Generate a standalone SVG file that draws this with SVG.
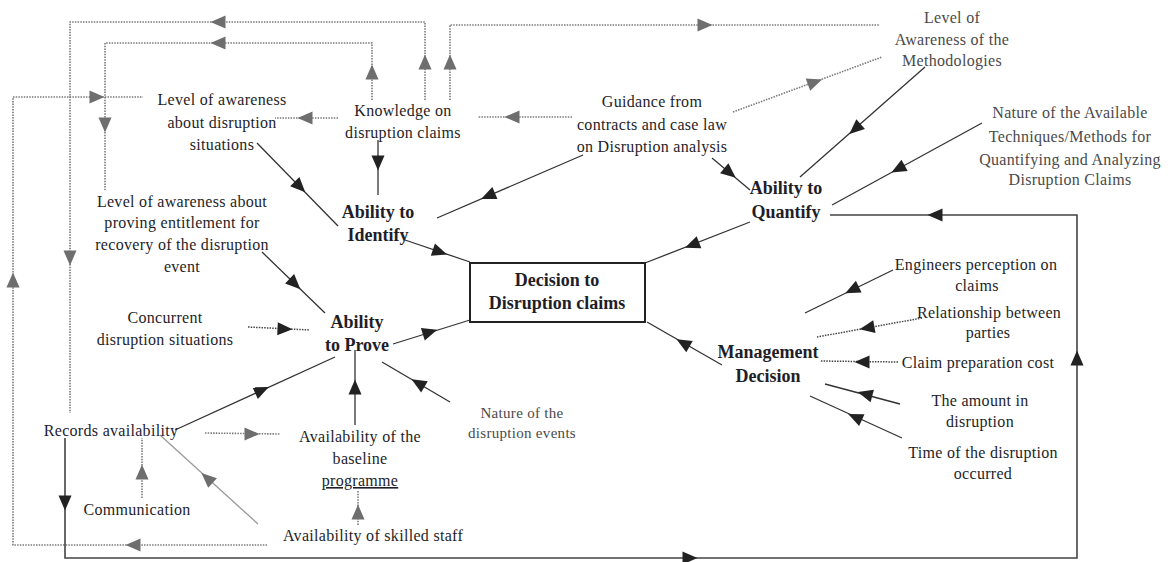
<svg xmlns="http://www.w3.org/2000/svg" xmlns:xlink="http://www.w3.org/1999/xlink" width="1173" height="562" viewBox="0 0 1173 562">
<defs>
<style>
text{font-family:"Liberation Serif","Times New Roman",serif;font-size:16px;fill:#1e1e28;text-anchor:middle;letter-spacing:0.3px}
.b{font-weight:bold;font-size:18px;letter-spacing:0}
.g{fill:#4a4a4a}
.sm{font-size:15px}
.s{fill:none;stroke:#333;stroke-width:1.3}
.d{fill:none;stroke:#7a7a7a;stroke-width:1.6;stroke-dasharray:1.5 1.2}
.dd{fill:none;stroke:#444;stroke-width:1.5;stroke-dasharray:1.5 1.2}
.t{fill:none;stroke:#999;stroke-width:1.3}
.L{fill:none;stroke:#444;stroke-width:1.6}
.ak{fill:#222}
.ag{fill:#6e6e6e}
</style>
<path id="ah" d="M7.5,0 L-7.5,-6.5 L-7.5,6.5 Z"/>
</defs>
<rect width="1173" height="562" fill="#fff"/>

<g id="connectors">
<path class="d" d="M267 545 L13 545 L13 97 L143 97"/>
<use href="#ah" class="ag" transform="translate(133,545) rotate(180)"/>
<use href="#ah" class="ag" transform="translate(13,280) rotate(-90)"/>
<use href="#ah" class="ag" transform="translate(97,97)"/>
<path class="d" d="M425 100 L425 22 L70 22 L70 413"/>
<use href="#ah" class="ag" transform="translate(425,62) rotate(-90)"/>
<use href="#ah" class="ag" transform="translate(218,22) rotate(180)"/>
<use href="#ah" class="ag" transform="translate(70,258) rotate(90)"/>
<path class="d" d="M372 100 L372 43 L105 43 L105 190"/>
<use href="#ah" class="ag" transform="translate(372,72) rotate(-90)"/>
<use href="#ah" class="ag" transform="translate(218,43) rotate(180)"/>
<use href="#ah" class="ag" transform="translate(105,125) rotate(90)"/>
<path class="d" d="M450 100 L450 25 L880 25"/>
<use href="#ah" class="ag" transform="translate(450,62) rotate(-90)"/>
<use href="#ah" class="ag" transform="translate(705,25)"/>
<path class="d" d="M733 112 L882 57"/>
<use href="#ah" class="ag" transform="translate(815,82) rotate(-20.3)"/>
<path class="d" d="M572 117 L478 117"/>
<use href="#ah" class="ag" transform="translate(512,117) rotate(180)"/>
<path class="d" d="M338 118 L275 118"/>
<use href="#ah" class="ag" transform="translate(305,118) rotate(180)"/>
<path class="s" d="M378 140 L378 195"/>
<use href="#ah" class="ak" transform="translate(378,163) rotate(90)"/>
<path class="s" d="M257 143 L338 226"/>
<use href="#ah" class="ak" transform="translate(300,187) rotate(45.7)"/>
<path class="s" d="M583 155 L437 218"/>
<use href="#ah" class="ak" transform="translate(488,196) rotate(156.7)"/>
<path class="s" d="M712 158 L750 190"/>
<use href="#ah" class="ak" transform="translate(730,173) rotate(40)"/>
<path class="s" d="M405 240 L470 262"/>
<use href="#ah" class="ak" transform="translate(440,252) rotate(18.7)"/>
<path class="s" d="M750 222 L645 263"/>
<use href="#ah" class="ak" transform="translate(692,245) rotate(158.7)"/>
<path class="s" d="M925 67 L800 177"/>
<use href="#ah" class="ak" transform="translate(855,129) rotate(138.7)"/>
<path class="s" d="M982 123 L832 205"/>
<use href="#ah" class="ak" transform="translate(898,169) rotate(151.3)"/>
<path class="L" d="M65 438 L65 558 L1077 558 L1077 215 L830 215"/>
<use href="#ah" class="ak" transform="translate(65,503) rotate(90)"/>
<use href="#ah" class="ak" transform="translate(690,558)"/>
<use href="#ah" class="ak" transform="translate(1077,358) rotate(-90)"/>
<use href="#ah" class="ak" transform="translate(935,215) rotate(180)"/>
<path class="s" d="M175 430 L335 357"/>
<use href="#ah" class="ak" transform="translate(262,390) rotate(-24.5)"/>
<path class="d" d="M205 433 L280 434"/>
<use href="#ah" class="ag" transform="translate(252,434)"/>
<path class="d" d="M142 498 L142 438"/>
<use href="#ah" class="ag" transform="translate(142,472) rotate(-90)"/>
<path class="t" d="M258 524 L160 435"/>
<use href="#ah" class="ag" transform="translate(207,478) rotate(-137.8)"/>
<path class="d" d="M358 525 L358 490"/>
<use href="#ah" class="ag" transform="translate(358,512) rotate(-90)"/>
<path class="s" d="M355 425 L355 350"/>
<use href="#ah" class="ak" transform="translate(355,387) rotate(-90)"/>
<path class="s" d="M450 402 L382 362"/>
<use href="#ah" class="ak" transform="translate(418,383) rotate(-149.5)"/>
<path class="s" d="M393 344 L470 320"/>
<use href="#ah" class="ak" transform="translate(430,332) rotate(-17.3)"/>
<path class="dd" d="M248 327 L310 330"/>
<use href="#ah" class="ak" transform="translate(285,329) rotate(2.8)"/>
<path class="s" d="M262 252 L325 313"/>
<use href="#ah" class="ak" transform="translate(295,284) rotate(44.1)"/>
<path class="s" d="M722 365 L647 322"/>
<use href="#ah" class="ak" transform="translate(683,343) rotate(-150.2)"/>
<path class="s" d="M893 270 L805 313"/>
<use href="#ah" class="ak" transform="translate(852,290) rotate(154)"/>
<path class="dd" d="M922 318 L817 337"/>
<use href="#ah" class="ak" transform="translate(867,328) rotate(169.7)"/>
<path class="dd" d="M898 362 L820 361"/>
<use href="#ah" class="ak" transform="translate(862,362) rotate(180)"/>
<path class="s" d="M900 404 L825 384"/>
<use href="#ah" class="ak" transform="translate(865,394) rotate(-165)"/>
<path class="s" d="M902 438 L810 396"/>
<use href="#ah" class="ak" transform="translate(855,417) rotate(-155.5)"/>
</g>

<g id="decision">
<rect x="470" y="263" width="175" height="59" fill="#fff" stroke="#222" stroke-width="2"/>
<text class="b" x="557" y="286">Decision to</text>
<text class="b" x="557" y="309">Disruption claims</text>
</g>
<g id="ability-identify">
<text class="b" x="378" y="218">Ability to</text>
<text class="b" x="378" y="241">Identify</text>
</g>
<g id="ability-quantify">
<text class="b" x="786" y="194">Ability to</text>
<text class="b" x="786" y="218">Quantify</text>
</g>
<g id="ability-prove">
<text class="b" x="357" y="328">Ability</text>
<text class="b" x="357" y="351">to Prove</text>
</g>
<g id="management-decision">
<text class="b" x="768" y="358">Management</text>
<text class="b" x="768" y="382">Decision</text>
</g>
<g id="knowledge">
<text x="403" y="116">Knowledge  on</text>
<text x="403" y="138">disruption claims</text>
</g>
<g id="awareness-disruption">
<text x="222" y="105">Level of awareness</text>
<text x="222" y="128">about disruption</text>
<text x="222" y="150">situations</text>
</g>
<g id="guidance">
<text x="652" y="107">Guidance from</text>
<text x="652" y="130">contracts and case law</text>
<text x="652" y="152">on Disruption analysis</text>
</g>
<g id="awareness-methodologies">
<text class="g" x="952" y="23">Level of</text>
<text class="g" x="952" y="45">Awareness of the</text>
<text class="g" x="952" y="66">Methodologies</text>
</g>
<g id="techniques">
<text class="g" x="1070" y="118">Nature of the Available</text>
<text class="g" x="1070" y="142">Techniques/Methods for</text>
<text class="g" x="1070" y="165">Quantifying and Analyzing</text>
<text class="g" x="1070" y="185">Disruption Claims</text>
</g>
<g id="awareness-proving">
<text x="182" y="207">Level of awareness about</text>
<text x="182" y="228">proving entitlement for</text>
<text x="182" y="250">recovery of the disruption</text>
<text x="182" y="272">event</text>
</g>
<g id="concurrent">
<text x="165" y="323">Concurrent</text>
<text x="165" y="345">disruption situations</text>
</g>
<g id="records">
<text x="111" y="436" style="fill:#1e2233">Records availability</text>
</g>
<g id="communication">
<text x="137" y="515">Communication</text>
</g>
<g id="baseline">
<text x="360" y="442">Availability of the</text>
<text x="360" y="464">baseline</text>
<text x="360" y="486" text-decoration="underline">programme</text>
</g>
<g id="skilled-staff">
<text x="373" y="541">Availability of skilled  staff</text>
</g>
<g id="nature-events">
<text class="g sm" x="522" y="418">Nature of the</text>
<text class="g sm" x="522" y="438">disruption events</text>
</g>
<g id="engineers">
<text x="976" y="270">Engineers perception on</text>
<text x="977" y="291">claims</text>
</g>
<g id="relationship">
<text x="989" y="318">Relationship between</text>
<text x="988" y="338">parties</text>
</g>
<g id="claim-cost">
<text x="978" y="368">Claim preparation cost</text>
</g>
<g id="amount">
<text x="980" y="406">The amount in</text>
<text x="980" y="427">disruption</text>
</g>
<g id="time">
<text x="983" y="458">Time of the disruption</text>
<text x="983" y="479">occurred</text>
</g>
</svg>
